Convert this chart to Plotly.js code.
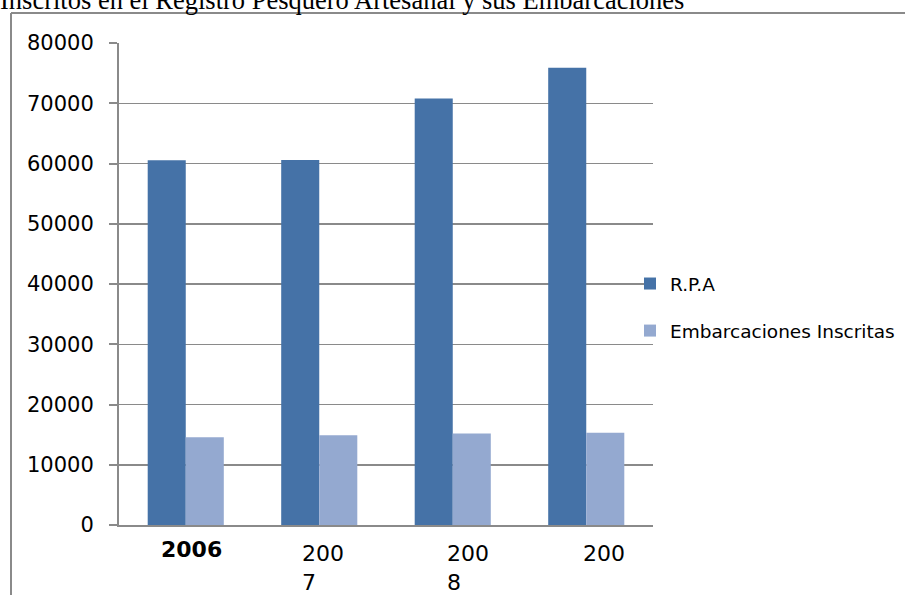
<!DOCTYPE html>
<html>
<head>
<meta charset="utf-8">
<script src="https://cdn.plot.ly/plotly-3.0.1.min.js"></script>
<style>html,body{margin:0;padding:0;background:#fff;}#chart{width:905px;height:595px;}</style>
</head>
<body>
<div id="chart"></div>
<script>
// ---- data ----
const categories = ["2006", "2007", "2008", "2009"];
const tickLabels = ["2006", "200<br>7", "200<br>8", "200"];
const rpaValues = [60550, 60600, 70800, 75900];
const embarcacionesValues = [14550, 14900, 15200, 15300];
const seriesNames = ["R.P.A", "Embarcaciones Inscritas"];
const titleText = "Inscritos en el Registro Pesquero Artesanal y sus Embarcaciones";

// ---- style ----
const darkBlue = "#4572A7";
const lightBlue = "#94A9D0";
const grey = "#8a8a8a";
const labelShift = [6, -19, -8, -5]; // horizontal nudges of the category labels (px)

const traces = [
  {type: "bar", name: seriesNames[0], x: categories, y: rpaValues,
   marker: {color: darkBlue}, legendgroup: "a", hoverinfo: "x+y+name"},
  {type: "bar", name: seriesNames[1], x: categories, y: embarcacionesValues,
   marker: {color: lightBlue}, legendgroup: "b", hoverinfo: "x+y+name"}
];

// category labels placed by category index on the x axis
const annotations = categories.map((c, i) => ({
  xref: "x", yref: "paper", x: i, y: -0.03,
  xanchor: i === 0 ? "center" : "left", yanchor: "top",
  xshift: labelShift[i], yshift: i === 0 ? 4 : 0,
  align: "left", showarrow: false,
  text: i === 0 ? "<b>" + tickLabels[i] + "</b>" : tickLabels[i],
  font: {family: "DejaVu Sans", size: 22, color: "#000"}
}));

const L = 119, T = 43, W = 534, H = 482;
const px = X => (X - L) / W;
const py = Y => (T + H - Y) / H;

const layout = {
  width: 905, height: 595,
  margin: {l: L, r: 905 - L - W, t: T, b: 595 - T - H, pad: 0, autoexpand: false},
  paper_bgcolor: "#fff", plot_bgcolor: "#fff",
  title: {text: titleText, font: {family: "Liberation Serif", size: 26.5, color: "#000"},
          xref: "container", x: 0, xanchor: "left", yref: "container", y: 1, yanchor: "middle", pad: {t: 0, b: 0, l: 0, r: 0}},
  barmode: "group", bargap: 0.43, bargroupgap: 0,
  xaxis: {type: "category", range: [-0.5, 3.5], showline: true, linecolor: grey, linewidth: 2,
          showticklabels: false, ticks: "", showgrid: false, zeroline: false, fixedrange: true},
  yaxis: {range: [0, 80000], dtick: 10000, tickformat: "d", showline: true, linecolor: grey, linewidth: 2,
          ticks: "outside", ticklen: 8, tickwidth: 2, tickcolor: grey, ticklabelstandoff: 11,
          showgrid: true, gridcolor: grey, gridwidth: 1.5, zeroline: false,
          tickfont: {family: "DejaVu Sans", size: 21, color: "#000"}, fixedrange: true},
  showlegend: true,
  legend: {x: px(630), xanchor: "left", y: py(265), yanchor: "top", bgcolor: "rgba(0,0,0,0)",
           font: {family: "DejaVu Sans", size: 18.5, color: "#000"}, tracegroupgap: 20, traceorder: "grouped"},
  annotations: annotations,
  shapes: [
    {type: "line", xref: "paper", yref: "paper", x0: px(11), x1: px(906), y0: py(13), y1: py(13),
     line: {color: grey, width: 2}},
    {type: "line", xref: "paper", yref: "paper", x0: px(11), x1: px(11), y0: py(13), y1: py(596),
     line: {color: grey, width: 2}}
  ]
};

Plotly.newPlot("chart", traces, layout, {staticPlot: true, displayModeBar: false});
</script>
</body>
</html>
